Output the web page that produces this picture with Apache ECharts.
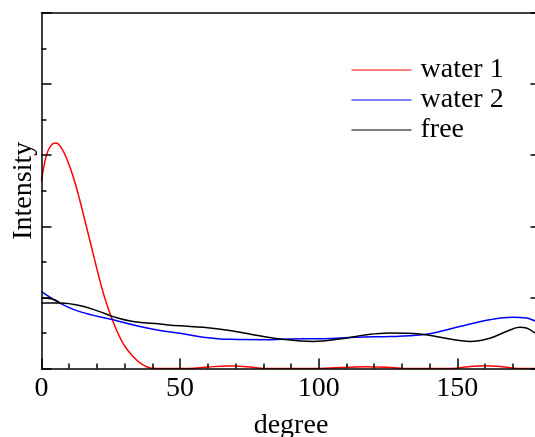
<!DOCTYPE html>
<html>
<head>
<meta charset="utf-8">
<script src="https://cdn.jsdelivr.net/npm/echarts@6/dist/echarts.min.js"></script>
<style>
html,body{margin:0;padding:0;background:#fff;}
#chart{width:535px;height:437px;}
</style>
</head>
<body>
<div id="chart"></div>
<script>
var seriesNames = ['water 1', 'water 2', 'free'];
var xTicks = [0, 50, 100, 150];

var water1Deg = [0,1.8,3.6,5.2,7.2,9,11.4,13.8,16.2,18.6,21,23.4,25.8,29.4,33,36.6,39.7,44,53,60,67,70,74,81,90,98,108,117,126,132,140,148,154,160,166,172,180];
var water1Val = [5.26,6.01,6.29,6.34,6.2,5.92,5.4,4.74,3.99,3.24,2.49,1.84,1.32,0.71,0.34,0.1,0.01,0,0,0.04,0.07,0.07,0.05,0,0,0,0.03,0.05,0.03,0,0,0,0.05,0.08,0.05,0,0];

var water2Deg = [0,6.6,13.8,25.8,35.5,42.7,50,58.3,67.9,83.2,89.6,101.6,113.6,125.6,132.8,140,150.9,161.7,170.1,174.9,178,180];
var water2Val = [2.16,1.84,1.6,1.37,1.18,1.07,0.99,0.88,0.82,0.81,0.83,0.84,0.88,0.9,0.92,0.98,1.18,1.37,1.44,1.42,1.34,1.28];

var freeDeg = [0,6.6,13.8,21,25.8,33,42.7,50,58.3,67.9,76.3,86,98,107.6,117.2,125.6,136.4,147.3,154.5,161.7,167.7,172.5,174.9,178,180];
var freeVal = [1.84,1.84,1.77,1.6,1.46,1.32,1.25,1.2,1.16,1.07,0.95,0.83,0.76,0.83,0.95,1.0,0.97,0.83,0.76,0.85,1.04,1.16,1.14,1.0,0.9];

// short second trace of "free" near 0 degrees (doubled line in the original)
var freeEdgeDeg = [0, 3.5, 6.6];
var freeEdgeVal = [1.98, 1.96, 1.85];

function pairs(xs, ys){ return xs.map(function(x,i){ return [x, ys[i]]; }); }

var FONT = 'Liberation Serif';
var AX = {color:'#000', width:1.5};

var chart = echarts.init(document.getElementById('chart'), null, {renderer:'canvas'});
chart.setOption({
  animation:false,
  backgroundColor:'#fff',
  textStyle:{fontFamily:FONT},
  grid:{left:41.5, top:13, width:499, height:355.5, containLabel:false, outerBoundsMode:'none'},
  legend:{
    data:seriesNames, orient:'vertical', left:346.5, top:51,
    icon:'rect', itemWidth:60, itemHeight:1.2, itemGap:2,
    textStyle:{fontFamily:FONT, fontSize:28, color:'#000', padding:[0,0,0,4]}
  },
  xAxis:[
    {type:'value', min:0, max:180, interval:50, position:'bottom', z:5,
     axisLine:{show:true, onZero:false, lineStyle:AX},
     axisTick:{show:true, inside:true, length:10, lineStyle:{color:'#000', width:1.5}},
     axisLabel:{show:true, margin:6, fontFamily:FONT, fontSize:28, color:'#000',
       formatter:function(v){ return xTicks.indexOf(v) >= 0 ? String(v) : ''; }},
     splitLine:{show:false},
     name:'degree', nameLocation:'middle', nameGap:43,
     nameTextStyle:{fontFamily:FONT, fontSize:28, color:'#000'}},
    {type:'value', min:0, max:180, interval:10, position:'bottom', z:5,
     axisLine:{show:false, onZero:false},
     axisTick:{show:true, inside:true, length:5, lineStyle:{color:'#000', width:1.5}},
     axisLabel:{show:false}, splitLine:{show:false}},
    {type:'value', min:0, max:180, position:'top', z:5,
     axisLine:{show:true, onZero:false, lineStyle:AX},
     axisTick:{show:false}, axisLabel:{show:false}, splitLine:{show:false}}
  ],
  yAxis:[
    {type:'value', min:0, max:10, interval:2, position:'left', z:5,
     axisLine:{show:true, onZero:false, lineStyle:AX},
     axisTick:{show:true, inside:true, length:10, lineStyle:{color:'#000', width:1.5}},
     minorTick:{show:true, splitNumber:2, length:5, lineStyle:{color:'#000', width:1.5}},
     axisLabel:{show:false}, splitLine:{show:false},
     name:'Intensity', nameLocation:'middle', nameGap:4,
     nameTextStyle:{fontFamily:FONT, fontSize:28, color:'#000'}},
    {type:'value', min:0, max:10, interval:2, position:'right', z:5,
     axisLine:{show:true, onZero:false, lineStyle:AX},
     axisTick:{show:true, inside:true, length:10, lineStyle:{color:'#000', width:1.5}},
     axisLabel:{show:false}, splitLine:{show:false}}
  ],
  series:[
    {name:seriesNames[0], type:'line', data:pairs(water1Deg, water1Val), smooth:0.4, symbol:'none', color:'#ff0000', lineStyle:{color:'#ff0000', width:1.5}},
    {name:seriesNames[1], type:'line', data:pairs(water2Deg, water2Val), smooth:0.4, symbol:'none', color:'#0000ff', lineStyle:{color:'#0000ff', width:1.5}},
    {name:seriesNames[2], type:'line', data:pairs(freeDeg, freeVal), smooth:0.4, symbol:'none', color:'#000000', lineStyle:{color:'#000000', width:1.5}},
    {type:'line', data:pairs(freeEdgeDeg, freeEdgeVal), smooth:0.4, symbol:'none', color:'#000000', lineStyle:{color:'#000000', width:1.5}}
  ]
});
</script>
</body>
</html>
